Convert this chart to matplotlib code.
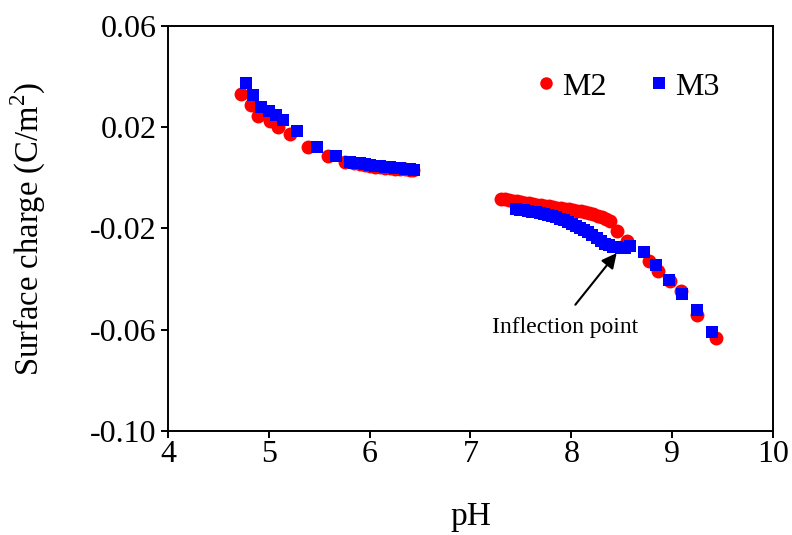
import matplotlib
matplotlib.use("Agg")
import matplotlib.pyplot as plt
from matplotlib.ticker import FormatStrFormatter

plt.rcParams['font.family'] = ['Liberation Serif', 'DejaVu Serif']
plt.rcParams['axes.unicode_minus'] = False
plt.rcParams['mathtext.fontset'] = 'custom'
plt.rcParams['mathtext.rm'] = 'Liberation Serif'

# M2 (red circles)
m2_ph = [4.72, 4.82, 4.89, 5.01, 5.09, 5.21, 5.39, 5.59, 5.76,
         5.85, 5.90, 5.95, 6.00, 6.05, 6.10, 6.15, 6.20, 6.25, 6.30, 6.35, 6.40, 6.43,
         7.30, 7.34, 7.38, 7.42, 7.46, 7.50, 7.54, 7.58, 7.62, 7.66, 7.70, 7.74,
         7.78, 7.82, 7.86, 7.90, 7.94, 7.98, 8.02, 8.06, 8.10, 8.14, 8.18, 8.22,
         8.26, 8.30, 8.34, 8.38, 8.45,
         8.55, 8.77, 8.86, 8.98, 9.09, 9.25, 9.43]
m2_sc = [0.0330, 0.0288, 0.0245, 0.0222, 0.0202, 0.0173, 0.0123, 0.0084, 0.0064,
         0.0058, 0.0054, 0.0050, 0.0047, 0.0044, 0.0042, 0.0040, 0.0038, 0.0036, 0.0035, 0.0033, 0.0032, 0.0031,
         -0.0083, -0.0085, -0.0088, -0.0091, -0.0093, -0.0096, -0.0098, -0.0101, -0.0103, -0.0106, -0.0108, -0.0111,
         -0.0113, -0.0115, -0.0118, -0.0120, -0.0123, -0.0125, -0.0128, -0.0130, -0.0133, -0.0136, -0.0140, -0.0144,
         -0.0149, -0.0155, -0.0162, -0.0172, -0.0212,
         -0.0251, -0.0330, -0.0367, -0.0409, -0.0446, -0.0543, -0.0632]

# M3 (blue squares)
m3_ph = [4.77, 4.84, 4.92, 5.00, 5.07, 5.14, 5.28, 5.48, 5.67, 5.81,
         5.85, 5.90, 5.95, 6.00, 6.05, 6.10, 6.15, 6.20, 6.25, 6.30, 6.35, 6.40, 6.44,
         7.45, 7.49, 7.53, 7.57, 7.61, 7.65, 7.69, 7.73, 7.77, 7.81, 7.85, 7.89,
         7.93, 7.97, 8.01, 8.05, 8.09, 8.13, 8.17, 8.21, 8.25, 8.29, 8.33, 8.37,
         8.41, 8.45, 8.49, 8.53,
         8.58, 8.72, 8.84, 8.97, 9.10, 9.25, 9.40]
m3_sc = [0.0375, 0.0327, 0.0281, 0.0264, 0.0248, 0.0226, 0.0185, 0.0123, 0.0087, 0.0064,
         0.0060, 0.0057, 0.0054, 0.0051, 0.0048, 0.0046, 0.0043, 0.0041, 0.0039, 0.0037, 0.0035, 0.0033, 0.0031,
         -0.0125, -0.0127, -0.0129, -0.0132, -0.0134, -0.0137, -0.0140, -0.0143, -0.0147, -0.0151, -0.0156, -0.0161,
         -0.0167, -0.0174, -0.0181, -0.0189, -0.0197, -0.0205, -0.0214, -0.0226, -0.0238, -0.0250, -0.0260, -0.0267,
         -0.0272, -0.0275, -0.0276, -0.0276,
         -0.0271, -0.0293, -0.0343, -0.0402, -0.0459, -0.0520, -0.0608]

x_ticks = [4, 5, 6, 7, 8, 9, 10]
y_ticks = [-0.10, -0.06, -0.02, 0.02, 0.06]

fig = plt.figure(figsize=(7.92, 5.35), dpi=100)
ax = fig.add_axes([0.212, 0.194, 0.764, 0.758])

ax.plot(m2_ph, m2_sc, linestyle='none', marker='o', ms=10, color='#ff0000',
        markeredgewidth=0, label='M2', zorder=2)
ax.plot(m3_ph, m3_sc, linestyle='none', marker='s', ms=9.3, color='#0000ff',
        markeredgewidth=0, label='M3', zorder=3)

ax.set_xlim(4, 10)
ax.set_ylim(-0.10, 0.06)
ax.set_xticks(x_ticks)
ax.set_yticks(y_ticks)
ax.yaxis.set_major_formatter(FormatStrFormatter('%.2f'))
ax.xaxis.set_major_formatter(FormatStrFormatter('%d'))

for s in ax.spines.values():
    s.set_linewidth(1.4)
ax.tick_params(direction='out', length=5, width=1.4, labelsize=23)
ax.tick_params(axis='y', pad=3)
ax.tick_params(axis='x', pad=1)

ax.set_xlabel('pH', fontsize=24)
ax.xaxis.set_label_coords(0.5, -0.21)
ax.xaxis.label.set_verticalalignment('center')
ax.set_ylabel('Surface charge (C/m$^2$)', fontsize=23.5)
ax.yaxis.set_label_coords(-0.23, 0.5)
ax.yaxis.label.set_verticalalignment('center')

ax.annotate('', xy=(8.45, -0.0297), xytext=(8.04, -0.0501),
            arrowprops=dict(arrowstyle='-|>,head_length=0.9,head_width=0.45',
                            color='black', lw=1.5, shrinkA=0, shrinkB=0))
ax.text(7.94, -0.0589, 'Inflection point', fontsize=17, ha='center', va='center')

ax.legend(loc='center', bbox_to_anchor=(0.752, 0.849), ncol=2, frameon=False,
          fontsize=23, handletextpad=-0.1, columnspacing=1.05, handlelength=1.2,
          borderpad=0, markerscale=0.9)

fig.savefig('out.png', dpi=100)
